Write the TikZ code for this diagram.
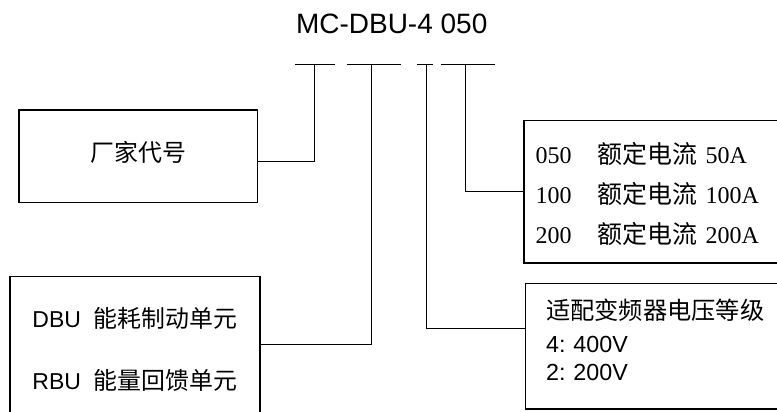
\documentclass[tikz,border=0pt]{standalone}
\usepackage{fontspec}
\setmainfont{Liberation Sans}
\newfontfamily\zhfont[Scale=1.04]{Noto Sans CJK SC}
\newfontfamily\numfont{Liberation Serif}
\newcommand{\zh}[1]{{\zhfont #1}}
\frenchspacing

\begin{document}
\begin{tikzpicture}[
  x=1pt, y=-1pt,
  partbox/.style={draw, line width=1.4pt, inner ysep=0pt, anchor=north west},
  lead/.style={line width=1pt}
]
\useasboundingbox (0,0) rectangle (777,412);
\node[anchor=base, font=\fontsize{28}{32}\selectfont] (code) at (391.7,33.7) {MC-DBU-4 050};
% bars under the type code
\foreach \a/\b in {295/335, 347/401, 417/433, 441/495}
  \draw[lead] (\a,65) -- (\b,65);
\coordinate (m1) at (314,65);
\coordinate (m2) at (371,65);
\coordinate (m3) at (426.5,65);
\coordinate (m4) at (465,65);

\node[partbox, minimum width=238.4pt, minimum height=92.4pt, text depth=10pt, font=\fontsize{23}{28}\selectfont] (maker) at (18.3,109.3) {\zh{厂家代号}};
\node[partbox, minimum width=250pt, minimum height=145pt, inner xsep=22.4pt, text width=205.2pt, align=left, font=\fontsize{23}{61.6}\selectfont] (unit) at (9.3,276) {DBU\hspace{13pt}\zh{能耗制动单元}\\RBU\hspace{13pt}\zh{能量回馈单元}};
\node[partbox, minimum width=261.7pt, minimum height=142.3pt, inner xsep=11.7pt, text width=238.3pt, align=left, font=\numfont\fontsize{24}{40}\selectfont] (rated) at (523.3,120) {\rule{0pt}{26pt}\makebox[62pt][l]{050}\zh{额定电流} 50A\\\makebox[62pt][l]{100}\zh{额定电流} 100A\\\makebox[62pt][l]{200}\zh{额定电流} 200A};
\node[partbox, minimum width=266pt, minimum height=125.6pt, inner xsep=20.5pt, text width=225pt, align=left, font=\fontsize{23.3}{28}\selectfont] (volt) at (525,282.7) {\zh{适配变频器电压等级}\\[5pt]4: 400V\\2: 200V\rule[-13.5pt]{0pt}{13.5pt}};

\draw[lead] ([yshift=-5.5pt]maker.east) -| (m1);
\draw[lead] ([yshift=5.2pt]unit.east) -| (m2);
\draw[lead] (m3) |- ([yshift=17.5pt]volt.west);
\draw[lead] (m4) |- (rated.west);
\end{tikzpicture}
\end{document}
